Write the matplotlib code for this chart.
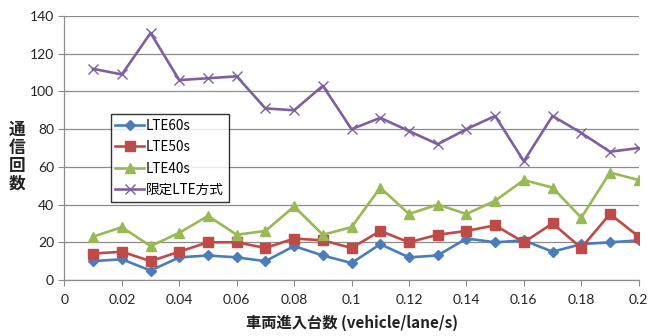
import matplotlib
matplotlib.use("Agg")
import matplotlib.pyplot as plt
import numpy as np

plt.rcParams['font.family'] = ['Noto Sans CJK JP', 'DejaVu Sans']

# Vehicle arrival rate (vehicle/lane/s)
rates = [0.01, 0.02, 0.03, 0.04, 0.05, 0.06, 0.07, 0.08, 0.09, 0.10,
         0.11, 0.12, 0.13, 0.14, 0.15, 0.16, 0.17, 0.18, 0.19, 0.20]

# Number of communications per scheme
lte60 = [10, 11, 5, 12, 13, 12, 10, 18, 13, 9,
         19, 12, 13, 22, 20, 21, 15, 19, 20, 21]
lte50 = [14, 15, 10, 15, 20, 20, 17, 22, 21, 17,
         26, 20, 24, 26, 29, 20, 30, 17, 35, 23]
lte40 = [23, 28, 18, 25, 34, 24, 26, 39, 24, 28,
         49, 35, 40, 35, 42, 53, 49, 33, 57, 53]
limited_lte = [112, 109, 131, 106, 107, 108, 91, 90, 103, 80,
               86, 79, 72, 80, 87, 63, 87, 78, 68, 70]

series_labels = ['LTE60s', 'LTE50s', 'LTE40s', '限定LTE方式']
x_ticks = [0, 0.02, 0.04, 0.06, 0.08, 0.1, 0.12, 0.14, 0.16, 0.18, 0.2]
x_tick_labels = ['0', '0.02', '0.04', '0.06', '0.08', '0.1', '0.12', '0.14', '0.16', '0.18', '0.2']
y_ticks = [0, 20, 40, 60, 80, 100, 120, 140]

fig = plt.figure(figsize=(6.48, 3.36), dpi=100)
ax = fig.add_axes([64.4 / 648, 1 - 280 / 336, 574.3 / 648, 264 / 336])

ax.plot(rates, lte60, color='#4A7EBB', lw=1.9, marker='D', ms=5, label=series_labels[0])
ax.plot(rates, lte50, color='#BE4B48', lw=1.9, marker='s', ms=7, label=series_labels[1])
ax.plot(rates, lte40, color='#98B954', lw=1.9, marker='^', ms=7, label=series_labels[2])
ax.plot(rates, limited_lte, color='#7D60A0', lw=1.9, marker='x', ms=7, mew=1.0,
        label=series_labels[3])

ax.set_xlim(0, 0.2)
ax.set_ylim(0, 140)
ax.set_xticks(x_ticks)
ax.set_xticklabels(x_tick_labels)
ax.set_yticks(y_ticks)

ax.yaxis.grid(True, color='#8C8C8C', lw=0.9)
ax.set_axisbelow(True)
for side in ('top', 'right'):
    ax.spines[side].set_visible(False)
for side in ('left', 'bottom'):
    ax.spines[side].set_color('#8C8C8C')
    ax.spines[side].set_linewidth(0.9)
ax.tick_params(axis='both', direction='out', length=4, color='#8C8C8C',
               labelsize=10, labelcolor='#222222')
ax.tick_params(axis='x', pad=6)
for lbl in ax.get_xticklabels() + ax.get_yticklabels():
    lbl.set_family(['Lato', 'DejaVu Sans'])

ax.set_xlabel('車両進入台数 (vehicle/lane/s)', fontsize=11, fontweight='bold',
              color='#222222', labelpad=6)
fig.text(17 / 648, 1 - 157 / 336, '通\n信\n回\n数', fontsize=12, fontweight='bold',
         color='#222222', ha='center', va='center', linespacing=1.0)

leg = ax.legend(loc='upper left', bbox_to_anchor=(0.0806, 0.629), frameon=True,
                fancybox=False, edgecolor='black', fontsize=9.8, handlelength=2.1,
                handletextpad=0.15, labelspacing=0.55, borderpad=0.35,
                borderaxespad=0)
leg.get_frame().set_linewidth(1.0)

fig.savefig('out.png', dpi=100)
